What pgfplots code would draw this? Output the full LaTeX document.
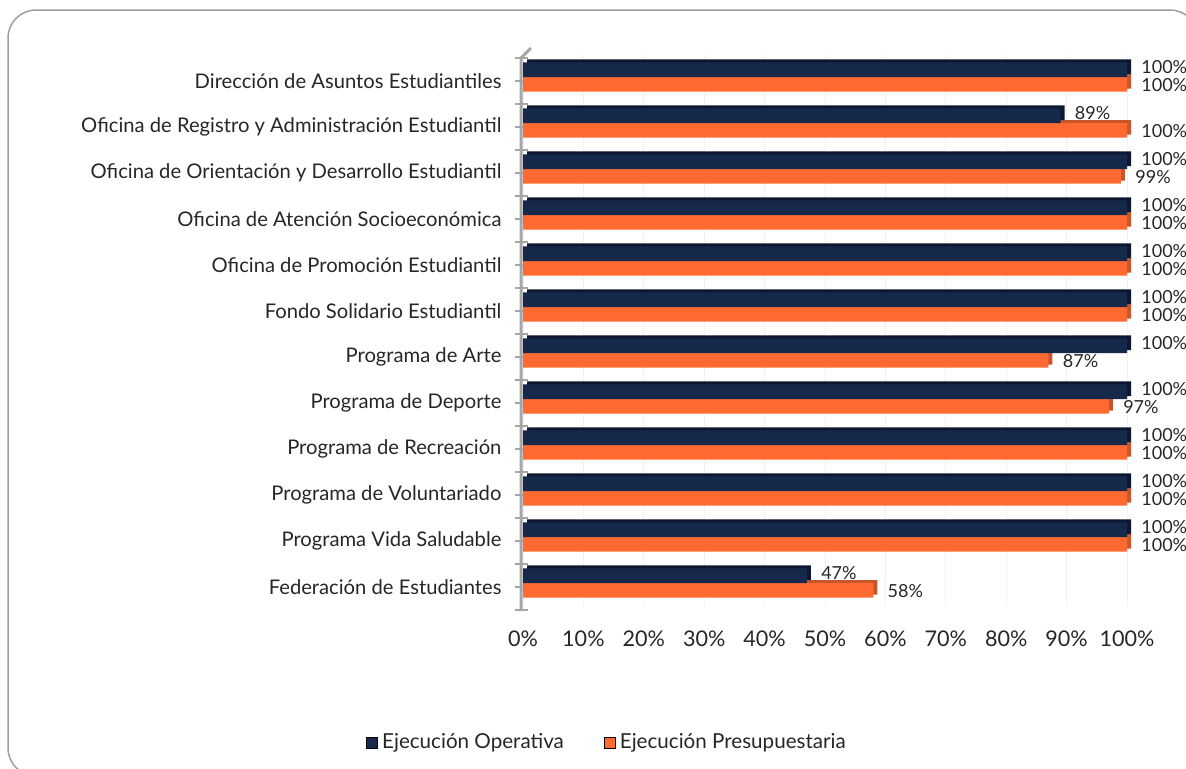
\documentclass[border=0pt]{standalone}
\usepackage{pgfplots}
\usepackage{pgfplotstable}
\pgfplotsset{compat=1.18}
\usepackage{fontspec}
\setmainfont{Lato}

\definecolor{azul}{HTML}{17294B}
\definecolor{azuloscuro}{HTML}{0C1730}
\definecolor{naranja}{HTML}{FF6A33}
\definecolor{naranjaoscuro}{HTML}{C8562A}
\definecolor{ejegris}{HTML}{A6A6A6}

% y: 11 = primera categoria (arriba), 0 = ultima
\pgfplotstableread{
y   ope  pre
11  100  100
10  89   100
9   100  99
8   100  100
7   100  100
6   100  100
5   100  87
4   100  97
3   100  100
2   100  100
1   100  100
0   47   58
}\datos

\begin{document}
\begin{tikzpicture}
\useasboundingbox (0,0) rectangle (593pt,-384pt);
\clip (0,0) rectangle (593pt,-384pt);
\draw[gray!75, line width=0.75pt, rounded corners=14pt] (4pt,-5pt) rectangle (599pt,-388pt);

\begin{axis}[
    at={(261.5pt,-303pt)}, anchor=south west,
    scale only axis,
    width=302pt, height=276pt,
    clip=false,
    xbar,
    bar width=7.3pt,
    xmin=0, xmax=100,
    ymin=-0.5, ymax=11.5,
    axis line style={draw=none},
    xtick={0,10,...,100},
    xticklabel={\pgfmathprintnumber{\tick}\%},
    /pgf/number format/assume math mode=true,
    x tick style={draw=none},
    xticklabel style={font=\fontsize{10.8}{12}\selectfont, text=black!85, yshift=-5.5pt},
    xmajorgrids,
    major x grid style={gray!10},
    ytick={0,...,11},
    yticklabels={Federación de Estudiantes, Programa Vida Saludable, Programa de Voluntariado, Programa de Recreación, Programa de Deporte, Programa de Arte, Fondo Solidario Estudiantil, Oficina de Promoción Estudiantil, Oficina de Atención Socioeconómica, Oficina de Orientación y Desarrollo Estudiantil, Oficina de Registro y Administración Estudiantil, Dirección de Asuntos Estudiantiles},
    minor ytick={-0.5,0.5,...,11.5},
    ytick pos=left,
    tick align=center,
    major tick length=6.5pt,
    minor tick length=6.5pt,
    y tick style={ejegris, line width=0.6pt, yshift=-2pt, xshift=-1pt},
    yticklabel style={font=\fontsize{10.1}{12}\selectfont, text=black!85, xshift=-4pt, yshift=-2pt},
    legend image code/.code={\fill[#1] (0pt,-2.8pt) rectangle (5.6pt,2.8pt);},
    legend columns=2,
    legend style={at={(0.1407,-0.248)}, anchor=center, draw=none, fill=none,
        font=\fontsize{10.3}{12}\selectfont, text=black!85,
        /tikz/every even column/.append style={column sep=18pt}},
    nodes near coords={\pgfmathprintnumber{\pgfplotspointmeta}\%},
    nodes near coords style={font=\fontsize{9}{11}\selectfont, text=black!85, inner sep=1pt},
]
\addlegendimage{fill=azul}
\addlegendentry{Ejecución Operativa}
\addlegendimage{fill=naranja}
\addlegendentry{Ejecución Presupuestaria}

% cara lateral (efecto 3D) y barras
\addplot[forget plot, draw=none, fill=naranjaoscuro, bar shift=-3.65pt, xshift=2pt, yshift=1.5pt,
    nodes near coords={}] table[x=pre, y=y]{\datos};
\addplot[forget plot, draw=none, fill=naranja, bar shift=-3.65pt,
    nodes near coords style={anchor=west, xshift=6pt, yshift=-0.5pt}] table[x=pre, y=y]{\datos};
\addplot[forget plot, draw=none, fill=azuloscuro, bar shift=3.65pt, xshift=2pt, yshift=1.5pt,
    nodes near coords={}] table[x=ope, y=y]{\datos};
\addplot[forget plot, draw=none, fill=azul, bar shift=3.65pt,
    nodes near coords style={anchor=west, xshift=6pt, yshift=1.5pt}] table[x=ope, y=y]{\datos};

\draw[ejegris, line width=1.5pt] ([xshift=-1pt, yshift=-2pt]rel axis cs:0,0) -- ([xshift=-1pt, yshift=-2pt]rel axis cs:0,1)
    -- ++(5pt,5pt);
\end{axis}
\end{tikzpicture}
\end{document}
